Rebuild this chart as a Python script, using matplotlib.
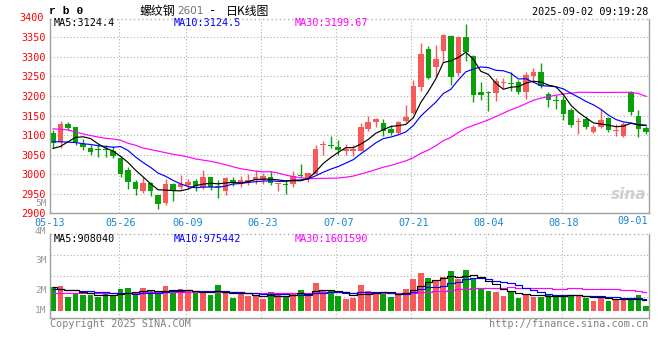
import numpy as np
import pandas as pd
import matplotlib
matplotlib.use("Agg")
import matplotlib.pyplot as plt
import matplotlib.transforms as mtransforms

# daily K-line of rb0, 2025-05-13 .. 2025-09-02
opens = [3106, 3082, 3128, 3120, 3078, 3067, 3064, 3063, 3060, 3041,
         3011, 2980, 2958, 2977, 2946, 2927, 2975, 2966, 2973, 2982,
         2967, 2993, 2970, 2958, 2986, 2975, 2980, 2984, 2986, 2993,
         2974, 2976, 2974, 2998, 2988, 3001, 3075, 3073, 3069, 3060,
         3060, 3060, 3115, 3133, 3130, 3116, 3105, 3135, 3157, 3224,
         3319, 3275, 3316, 3353, 3258, 3352, 3302, 3210, 3210, 3207,
         3233, 3233, 3237, 3209, 3250, 3262, 3206, 3191, 3191, 3163,
         3133, 3141, 3107, 3121, 3143, 3110, 3098, 3209, 3150, 3117]
highs = [3114, 3136, 3133, 3121, 3089, 3074, 3076, 3075, 3072, 3046,
         3018, 2986, 2993, 2979, 2946, 2988, 2977, 2999, 2989, 2988,
         3010, 2994, 2986, 2993, 2993, 2996, 3001, 3012, 3003, 3008,
         2977, 2986, 3007, 3027, 3003, 3074, 3086, 3098, 3088, 3076,
         3075, 3130, 3149, 3144, 3140, 3125, 3135, 3176, 3241, 3335,
         3328, 3331, 3359, 3355, 3353, 3384, 3306, 3236, 3214, 3246,
         3245, 3261, 3240, 3261, 3271, 3285, 3209, 3203, 3199, 3170,
         3143, 3150, 3126, 3167, 3146, 3129, 3133, 3213, 3163, 3124]
lows = [3068, 3067, 3114, 3074, 3062, 3048, 3044, 3044, 3042, 2994,
        2963, 2948, 2953, 2944, 2910, 2922, 2932, 2961, 2963, 2956,
        2963, 2960, 2938, 2948, 2970, 2968, 2972, 2975, 2975, 2972,
        2958, 2949, 2968, 2993, 2979, 3001, 3048, 3068, 3050, 3048,
        3046, 3060, 3110, 3121, 3098, 3100, 3103, 3133, 3154, 3214,
        3244, 3249, 3289, 3229, 3251, 3290, 3185, 3190, 3162, 3186,
        3220, 3213, 3204, 3192, 3235, 3220, 3173, 3167, 3139, 3122,
        3102, 3116, 3105, 3117, 3108, 3098, 3095, 3151, 3095, 3102]
closes = [3080, 3129, 3118, 3082, 3070, 3057, 3062, 3062, 3046, 3001,
          2979, 2963, 2977, 2958, 2924, 2975, 2956, 2974, 2980, 2970,
          2993, 2967, 2967, 2991, 2977, 2986, 2985, 2993, 2996, 2977,
          2976, 2972, 2996, 2996, 3003, 3065, 3077, 3072, 3062, 3064,
          3065, 3121, 3133, 3140, 3111, 3105, 3133, 3147, 3226, 3307,
          3246, 3294, 3355, 3248, 3350, 3313, 3203, 3202, 3208, 3238,
          3235, 3230, 3209, 3254, 3261, 3225, 3191, 3187, 3153, 3126,
          3135, 3121, 3121, 3139, 3112, 3114, 3129, 3158, 3116, 3107]
# volume, millions of lots
volume = [1.98, 2.06, 1.17, 1.45, 1.34, 1.28, 1.14, 1.45, 1.23, 1.84,
          1.90, 1.28, 1.90, 1.67, 1.48, 2.06, 1.45, 1.81, 1.67, 1.45,
          1.51, 1.34, 2.15, 1.45, 1.06, 1.39, 1.23, 1.28, 1.00, 1.56,
          1.28, 1.23, 1.45, 1.73, 1.34, 2.32, 1.73, 1.73, 1.23, 0.98,
          1.09, 2.15, 1.65, 1.45, 1.37, 1.14, 1.48, 1.81, 2.65, 3.15,
          2.73, 2.48, 2.79, 3.32, 2.65, 3.40, 2.62, 1.90, 1.67, 1.56,
          1.26, 1.67, 1.06, 1.39, 1.17, 1.17, 1.34, 1.23, 1.31, 1.31,
          1.31, 1.05, 0.84, 1.15, 0.84, 0.98, 0.98, 0.92, 1.30, 0.37]

# moving averages before enough days are in the window
ma5_head = [3066, 3071, 3083, 3094]
ma10_head = [3083, 3083, 3082, 3081, 3078, 3076, 3073, 3071, 3069]
ma30_head = [3116, 3115, 3113, 3108, 3103, 3099, 3095, 3092, 3090, 3087,
             3079, 3074, 3067, 3063, 3059, 3055, 3051, 3048, 3044, 3039,
             3036, 3033, 3029, 3024, 3019, 3014, 3011, 3008, 3006]
vma5_head = [1.95, 1.80, 1.74, 1.73]
vma10_head = [1.85, 1.80, 1.74, 1.70, 1.66, 1.62, 1.58, 1.55, 1.52]
vma30_head = [1.45, 1.45, 1.46, 1.46, 1.47, 1.50, 1.50, 1.51, 1.51, 1.50,
              1.50, 1.51, 1.55, 1.55, 1.56, 1.56, 1.55, 1.55, 1.56, 1.56,
              1.55, 1.55, 1.56, 1.56, 1.55, 1.55, 1.47, 1.46, 1.46]

date_pos = [9, 18, 28, 38, 48, 58, 68]
date_lbl = ["05-26", "06-09", "06-23", "07-07", "07-21", "08-04", "08-18"]

RED = "#f85a5a"
GREEN = "#0aa00a"
GRID = "#b0b0b0"
FRAME = "#a0a0a0"
BLUE_TXT = "#1a86d0"
MONO = "DejaVu Sans Mono"


def moving(values, n, head):
    m = pd.Series(values, dtype=float).rolling(n).mean().to_numpy()
    m[:len(head)] = head
    return m


x = np.arange(len(closes))
o = np.array(opens, float)
c = np.array(closes, float)
up = c >= o
cols = np.where(up, RED, GREEN)

W, H = 660, 360
fig = plt.figure(figsize=(W / 100, H / 100), dpi=100)
fig.patch.set_facecolor("white")


def px_axes(left, top, right, bottom):
    return fig.add_axes([left / W, 1 - bottom / H, (right - left) / W, (bottom - top) / H])


ax = px_axes(50, 19, 649, 213.3)
av = px_axes(50, 234.3, 649, 317.7)

xlim = (-0.4, 79.4)
for a in (ax, av):
    a.set_xlim(*xlim)
    a.spines["top"].set_visible(False)
    for s in ("left", "bottom", "right"):
        a.spines[s].set_color(FRAME)
        a.spines[s].set_linewidth(1.0)
    a.tick_params(length=0)
    for p in date_pos:
        a.axvline(p - 0.25, color=GRID, lw=0.8, ls=(0, (1, 2)), zorder=0)

# ---- price panel
ytop = 3397
ax.set_ylim(2900, ytop)
for lvl in range(2950, 3400, 50):
    ax.axhline(lvl, color=GRID, lw=0.8, ls=(0, (1, 2)), zorder=0)
ax.axhline(ytop, color=GRID, lw=1.0, ls=(0, (1, 2)), zorder=0, clip_on=False)

ax.vlines(x, lows, highs, colors=cols, lw=1.0, zorder=2)
body = np.maximum(np.abs(c - o), 2.6)
ax.bar(x, body, bottom=np.minimum(o, c), width=0.74, color=cols, linewidth=0, zorder=2)

ax.plot(x, moving(closes, 30, ma30_head), color="#ff00ff", lw=0.85, zorder=3)
ax.plot(x, moving(closes, 10, ma10_head), color="#0000ff", lw=0.85, zorder=3)
ax.plot(x, moving(closes, 5, ma5_head), color="black", lw=0.85, zorder=3)

ax.set_yticks(range(2900, 3400, 50))
ax.set_yticklabels([str(v) for v in range(2900, 3400, 50)], color="red",
                   fontsize=7.3, family=MONO)
ax.tick_params(axis="y", pad=3)
ax.text(-0.08 / 7.5, 3400, "3400", transform=mtransforms.blended_transform_factory(
    ax.transAxes, ax.transData), ha="right", va="center", color="red",
    fontsize=7.3, family=MONO, clip_on=False)

ax.set_xticks([xlim[0]] + date_pos)
ax.set_xticklabels(["05-13"] + date_lbl, color=BLUE_TXT, fontsize=7.3, family=MONO)
ax.tick_params(axis="x", pad=3.5)

ax.text(0.995, 0.06, "sina", transform=ax.transAxes, ha="right", va="bottom",
        color="#cfcfcf", fontsize=11, fontweight="bold", style="italic", zorder=1)

# ---- volume panel
vtop = 6.39
av.set_ylim(-0.586, vtop)
for lvl in (4.66, 2.90, 1.15):
    av.axhline(lvl, color=GRID, lw=0.8, ls=(0, (1, 2)), zorder=0)
av.axhline(vtop, color=GRID, lw=1.0, ls=(0, (1, 2)), zorder=0, clip_on=False)
av.bar(x, volume, width=0.76, color=cols, linewidth=0, zorder=2)
av.plot(x, moving(volume, 30, vma30_head), color="#ff00ff", lw=0.85, drawstyle="steps-mid", zorder=3)
av.plot(x, moving(volume, 10, vma10_head), color="#0000ff", lw=0.85, drawstyle="steps-mid", zorder=3)
av.plot(x, moving(volume, 5, vma5_head), color="black", lw=0.85, drawstyle="steps-mid", zorder=3)
av.set_yticks([])
av.set_xticks([])

# ---- text around the chart (pixel positions)
def ftext(px, py, s, **kw):
    kw.setdefault("family", MONO)
    kw.setdefault("fontsize", 7.3)
    kw.setdefault("va", "center")
    fig.text(px / W, 1 - py / H, s, **kw)


ftext(49, 11, "r b 0", fontsize=8.2, fontweight="bold", family="Liberation Mono")
ftext(140, 11, "螺纹钢", fontsize=8.6, family="Noto Sans CJK SC")
ftext(177, 11.5, "2601", color="#707070", fontsize=7.5, family="DejaVu Sans")
ftext(212, 11, "-", ha="center", fontsize=8.6)
ftext(226, 11, "日K线图", fontsize=8.6, family="Noto Sans CJK SC")
ftext(648, 12, "2025-09-02 09:19:28", ha="right")

ftext(648, 221.5, "09-01", ha="right", color=BLUE_TXT)

ftext(54, 23.5, "MA5:3124.4")
ftext(174, 23.5, "MA10:3124.5", color="#0000ff")
ftext(295, 23.5, "MA30:3199.67", color="#ff00ff")

ftext(54, 238.5, "MA5:908040")
ftext(174, 238.5, "MA10:975442", color="#0000ff")
ftext(295, 238.5, "MA30:1601590", color="#ff00ff")

for lbl, py in (("5M", 203.5), ("4M", 231.5), ("3M", 260.7), ("2M", 290.7), ("1M", 310.7)):
    ftext(46.5, py, lbl, ha="right", color="#999999", fontsize=6.8)

ftext(50, 324, "Copyright 2025 SINA.COM", color="#808080")
ftext(648, 324, "http://finance.sina.com.cn", ha="right", color="#808080")

fig.savefig("out.png", dpi=100, facecolor="white")
